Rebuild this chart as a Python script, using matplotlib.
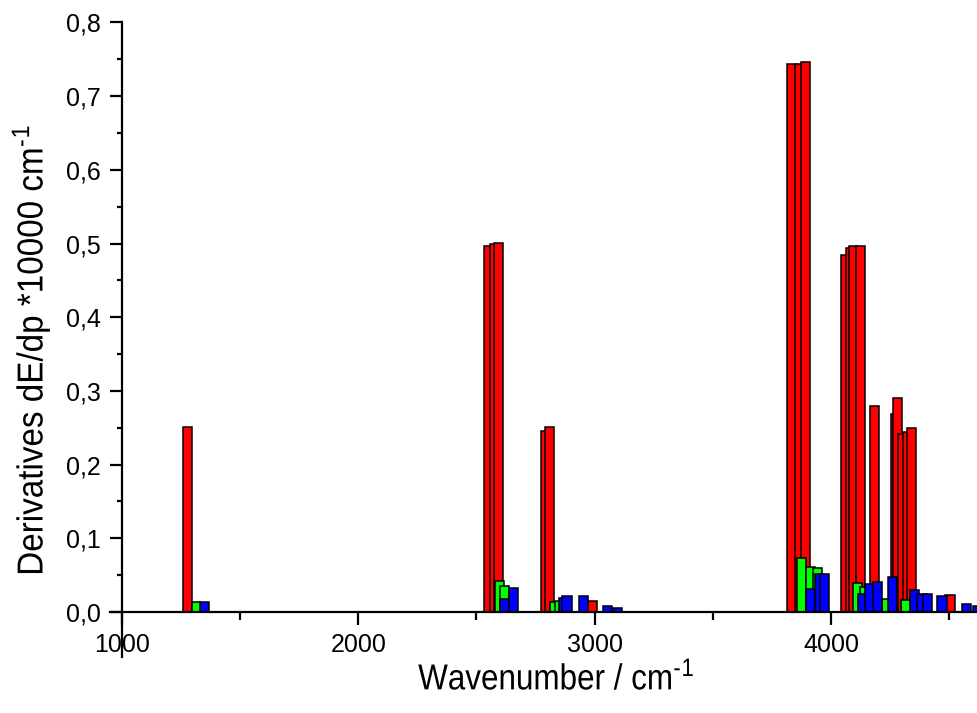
import numpy as np
import matplotlib
matplotlib.use('Agg')
import matplotlib.pyplot as plt
from matplotlib.ticker import MultipleLocator, FuncFormatter
from matplotlib.patheffects import AbstractPathEffect
from matplotlib.transforms import Affine2D

plt.rcParams['font.family'] = ['Liberation Sans', 'DejaVu Sans']
plt.rcParams['mathtext.default'] = 'regular'

# red series (wavenumber, derivative)
red_x = [1277, 2551, 2576, 2593, 2794, 2809, 2989,
         3833, 3869, 3892, 4062, 4085, 4096, 4124, 4184,
         4274, 4283, 4305, 4325, 4342, 4504]
red_y = [0.251, 0.496, 0.500, 0.501, 0.2455, 0.251, 0.015,
         0.743, 0.744, 0.746, 0.484, 0.494, 0.496, 0.497, 0.279,
         0.2685, 0.290, 0.242, 0.244, 0.249, 0.0225]

# green series
green_x = [1314, 2598, 2619, 2832, 2851, 3875, 3913, 3942, 4113, 4141, 4235, 4318]
green_y = [0.014, 0.042, 0.035, 0.013, 0.015, 0.073, 0.061, 0.059, 0.0395, 0.034, 0.017, 0.016]

# blue series
blue_x = [1350, 2619, 2657, 2869, 2883, 2954, 3054, 3097,
          3913, 3951, 3972, 4132, 4163, 4197, 4259, 4354,
          4385, 4410, 4470, 4574, 4620]
blue_y = [0.014, 0.018, 0.033, 0.019, 0.021, 0.021, 0.0085, 0.005,
          0.031, 0.052, 0.052, 0.024, 0.038, 0.041, 0.047, 0.0295,
          0.025, 0.025, 0.022, 0.0108, 0.0075]


class Squash(AbstractPathEffect):
    # narrow the glyphs along one screen direction (Origin exports a condensed Arial)
    def __init__(self, sx, sy, cx, cy):
        super().__init__()
        self.t = Affine2D().translate(-cx, -cy).scale(sx, sy).translate(cx, cy)

    def draw_path(self, renderer, gc, tpath, affine, rgbFace=None):
        renderer.draw_path(gc, tpath, affine + self.t, rgbFace)


fig = plt.figure(figsize=(9.77, 7.13), dpi=100)
ax = fig.add_axes([0.1249, 0.1417, 0.8751, 0.8268])

w = 39
ax.bar(red_x, red_y, width=w, color='#ff0000', edgecolor='black', linewidth=1.1)
ax.bar(green_x, green_y, width=w, color='#00ff00', edgecolor='black', linewidth=1.1)
ax.bar(blue_x, blue_y, width=w, color='#0000ff', edgecolor='black', linewidth=1.1)

ax.set_xlim(1000, 4618)
ax.set_ylim(0, 0.8)

ax.spines['top'].set_visible(False)
ax.spines['right'].set_visible(False)
ax.spines['left'].set_bounds(-0.061, 0.8)
ax.spines['bottom'].set_bounds(949, 4618)
for s in ('left', 'bottom'):
    ax.spines[s].set_linewidth(1.6)

ax.xaxis.set_major_locator(MultipleLocator(1000))
ax.xaxis.set_minor_locator(MultipleLocator(500))
ax.yaxis.set_major_locator(MultipleLocator(0.1))
ax.yaxis.set_minor_locator(MultipleLocator(0.05))
ax.yaxis.set_major_formatter(FuncFormatter(lambda v, p: f"{v:.1f}".replace('.', ',')))

ax.tick_params(axis='both', which='major', direction='out', length=9, width=1.6,
               labelsize=18, pad=6)
ax.tick_params(axis='x', which='minor', direction='out', length=5.5, width=1.6)
ax.tick_params(axis='y', which='minor', direction='out', length=3.5, width=1.6)

xl = ax.set_xlabel('Wavenumber / cm$^{\u2010\u2009\\!1}$', fontsize=26)
ax.xaxis.set_label_coords(0.508, -0.084)
xl.set_path_effects([Squash(0.87, 1.0, 556, 0)])

yl = ax.set_ylabel('Derivatives dE/dp *10000 cm$^{\u2010\u2009\\!1}$', fontsize=26)
ax.yaxis.set_label_coords(-0.081, 0.444)
yl.set_path_effects([Squash(1.0, 0.92, 0, 101 + 0.444 * 589.5)])

fig.savefig('out.png', dpi=100)
